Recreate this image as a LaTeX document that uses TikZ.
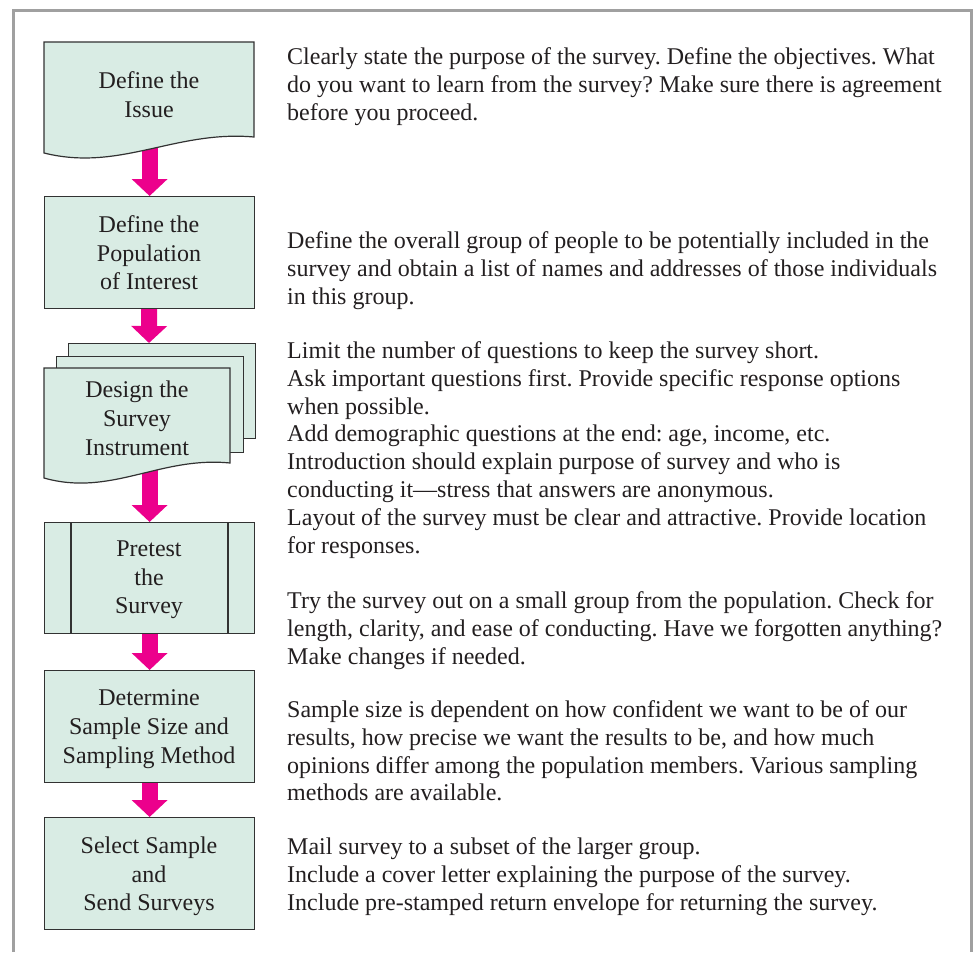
\documentclass[tikz,border=0pt]{standalone}
\usepackage{fontspec}
\setmainfont{Liberation Serif}
\usetikzlibrary{arrows.meta,backgrounds}
\frenchspacing
\definecolor{boxfill}{RGB}{217,236,228}
\definecolor{boxline}{RGB}{50,50,50}
\definecolor{arrowmag}{RGB}{236,0,140}
\definecolor{framegray}{RGB}{160,160,160}
\definecolor{txt}{RGB}{35,31,32}
\tikzset{
  boxshape/.style={draw=boxline, fill=boxfill, line width=1.2pt},
  boxnode/.style={rectangle, boxshape, inner sep=0pt, minimum width=210pt},
  ghost/.style={rectangle, inner sep=0pt, minimum width=210pt},
  boxtext/.style={anchor=north, inner sep=0pt, align=center, text=txt,
    font={\fontsize{24}{28.8}\selectfont\frenchspacing}},
  desc/.style={anchor=north west, inner sep=0pt, align=left, text=txt,
    font={\fontsize{24}{27.9}\selectfont\frenchspacing}},
  flowarrow/.style={draw=arrowmag, line width=16pt,
    -{Triangle[width=35pt,length=17pt,fill=arrowmag]}},
}
\begin{document}
\begin{tikzpicture}[x=1pt,y=-1pt]
\useasboundingbox (0,0) rectangle (973,952);
% frame
\draw[framegray, line width=3pt] (13,952) -- (13,11) -- (971,11) -- (971,952);

% box 1: document shape
\node[ghost, minimum height=111pt, anchor=north west] (b1) at (44,42) {};
\path[boxshape] (44,42) -- (254,42) -- (254,137)
  .. controls (175,130) and (120,172) .. (44,153) -- cycle;

% box 2
\node[boxnode, minimum height=112pt, anchor=north west] (b2) at (44,196) {};

% box 3: multi-document
\node[boxnode, minimum width=187pt, minimum height=95pt, anchor=north west] (p3) at (68,343) {};
\node[boxnode, minimum width=187pt, minimum height=96pt, anchor=north west] (p2) at (56,356) {};
\node[ghost, minimum width=186pt, minimum height=110pt, anchor=north west] (b3) at (44,368) {};
\path[boxshape] (44,368) -- (230,368) -- (230,463)
  .. controls (160,456) and (111,497) .. (44,478) -- cycle;

% box 4: predefined process
\node[boxnode, minimum height=111pt, anchor=north west] (b4) at (44,522) {};
\draw[boxline, line width=1.2pt] (71,522) -- (71,633);
\draw[boxline, line width=1.2pt] (228,522) -- (228,633);

% box 5, box 6
\node[boxnode, minimum height=112pt, anchor=north west] (b5) at (44,670) {};
\node[boxnode, minimum height=112pt, anchor=north west] (b6) at (44,817) {};

% arrows (behind boxes)
\begin{scope}[on background layer]
\coordinate (a3top) at (149,343);
\draw[flowarrow] (b1.center -| b2.north) -- (b2.north);
\draw[flowarrow] (b2.center) -- (a3top);
\draw[flowarrow] (b3.center -| b4.north) -- (b4.north);
\draw[flowarrow] (b4.center) -- (b5.north);
\draw[flowarrow] (b5.center) -- (b6.north);
\end{scope}

% box texts
\node[boxtext] (t1) at (149,68.3) {\strut Define the\\Issue};
\node[boxtext] (t2) at (149,212) {\strut Define the\\Population\\of Interest};
\node[boxtext] (t3) at (137,377.3) {\strut Design the\\Survey\\Instrument};
\node[boxtext] (t4) at (149,536) {\strut Pretest\\the\\Survey};
\node[boxtext] (t5) at (149,685.3) {\strut Determine\\Sample Size and\\Sampling Method};
\node[boxtext] (t6) at (149,833) {\strut Select Sample\\and\\Send Surveys};

% descriptions
\node[desc] (d1) at (287,45) {\strut Clearly state the purpose of the survey. Define the objectives. What\\do you want to learn from the survey? Make sure there is agreement\\before you proceed.};
\node[desc] (d2) at (287,228.5) {\strut Define the overall group of people to be potentially included in the\\survey and obtain a list of names and addresses of those individuals\\in this group.};
\node[desc] (d3) at (287,338.5) {\strut Limit the number of questions to keep the survey short.\\Ask important questions first. Provide specific response options\\when possible.\\Add demographic questions at the end: age, income, etc.\\Introduction should explain purpose of survey and who is\\conducting it—stress that answers are anonymous.\\Layout of the survey must be clear and attractive. Provide location\\for responses.};
\node[desc] (d4) at (287,588.5) {\strut Try the survey out on a small group from the population. Check for\\length, clarity, and ease of conducting. Have we forgotten anything?\\Make changes if needed.};
\node[desc] (d5) at (287,697.5) {\strut Sample size is dependent on how confident we want to be of our\\results, how precise we want the results to be, and how much\\opinions differ among the population members. Various sampling\\methods are available.};
\node[desc] (d6) at (287,834.5) {\strut Mail survey to a subset of the larger group.\\Include a cover letter explaining the purpose of the survey.\\Include pre-stamped return envelope for returning the survey.};
\end{tikzpicture}
\end{document}
